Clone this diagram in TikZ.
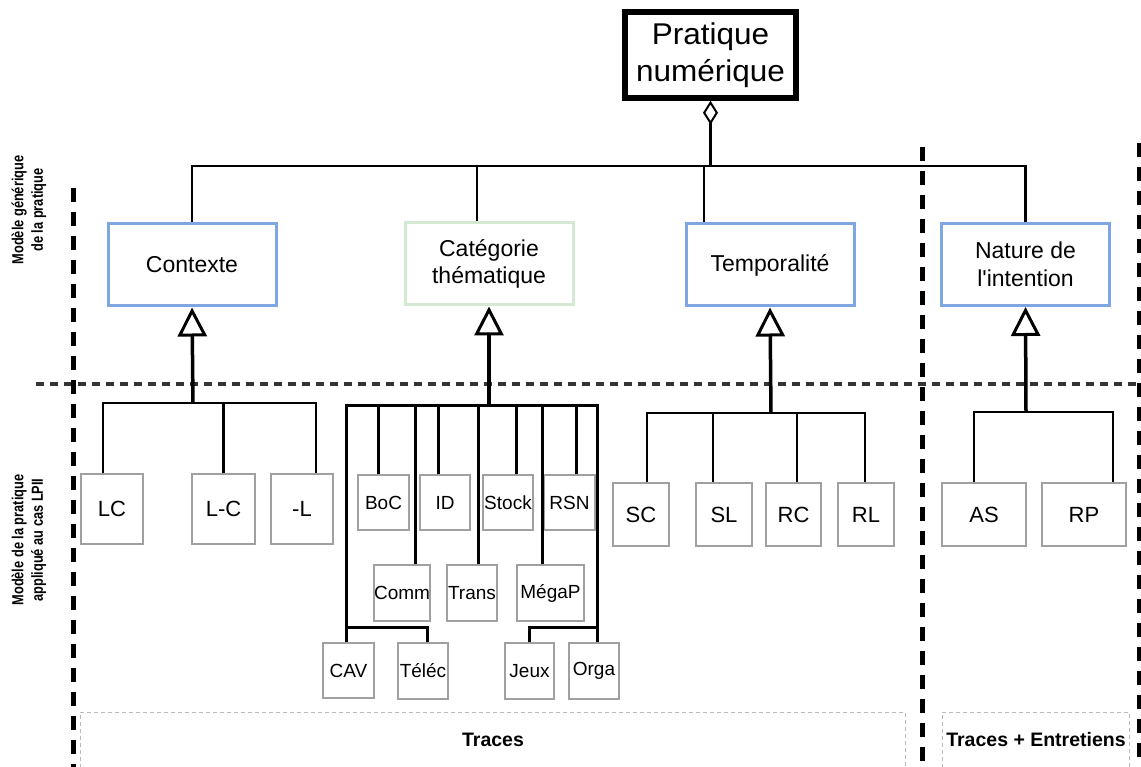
\documentclass[tikz,border=0pt]{standalone}
\usepackage{fontspec}
\setmainfont{Liberation Sans}
\newfontfamily\widefont[FakeStretch=1.05]{Liberation Sans}
\newfontfamily\narrowfont[FakeStretch=0.8]{Liberation Sans}
\usetikzlibrary{arrows.meta}
\definecolor{bluebd}{HTML}{7EA6E0}
\definecolor{greenbd}{HTML}{D5E8D4}
\definecolor{graybd}{HTML}{A0A0A0}
\begin{document}
\begin{tikzpicture}[x=1pt,y=-1pt,
  mainbox/.style={draw, line width=5.5pt, align=center, font=\widefont\fontsize{30}{37}\selectfont, minimum width=171pt, minimum height=86pt, inner sep=0pt},
  cls/.style={draw=bluebd, line width=3pt, align=center, font=\fontsize{23}{27.5}\selectfont, minimum width=168pt, minimum height=82pt, inner sep=0pt},
  leaf/.style={draw=graybd, line width=1.2pt, fill=white, font=\fontsize{22}{26}\selectfont, inner sep=0pt},
  cleaf/.style={leaf, font=\fontsize{19}{22}\selectfont},
  bus/.style={line width=2.5pt},
  tbus/.style={line width=3pt},
  gen/.style={line width=3.5pt, -{Triangle[open,length=29pt,width=29pt,line width=3pt]}},
  sidelbl/.style={rotate=90, align=center, font=\narrowfont\bfseries\fontsize{16}{19.5}\selectfont},
  zonelbl/.style={font=\bfseries\fontsize{19.5}{23}\selectfont},
  bigdash/.style={line width=5pt, dash pattern=on 14pt off 10pt},
  zone/.style={draw=gray!55, line width=0.9pt, dash pattern=on 4pt off 3pt}
]
\useasboundingbox (0,0) rectangle (1141,767);

% separators
\draw[line width=3pt, black!80, dash pattern=on 8pt off 6pt] (36,384) -- (1141,384);
\draw[bigdash] (73,188) -- (73,767);
\draw[bigdash] (922,147) -- (922,767);
\draw[bigdash] (1139,143) -- (1139,767);
\draw[zone] (80,775) -- (80,712) -- (905,712) -- (905,775);
\draw[zone] (942,775) -- (942,712) -- (1129,712) -- (1129,775);

% side labels
\node[sidelbl] (lblA) at (29,210) {Modèle générique\\de la pratique};
\node[sidelbl] (lblB) at (29,540) {Modèle de la pratique\\appliqué au cas LPII};
\node[zonelbl] (trc) at (493,740) {Traces};
\node[zonelbl] (tre) at (1036,740) {Traces + Entretiens};

% main nodes
\node[mainbox] (top) at (710.5,55) {Pratique\\numérique};
\node[cls] (ctx) at (192,265) {Contexte};
\node[cls, draw=greenbd] (cat) at (489,264) {Catégorie\\thématique};
\node[cls] (tmp) at (770,265) {Temporalité};
\node[cls] (nat) at (1025.5,264.5) {Nature de\\l\textquotesingle intention};

\coordinate (busT) at (710,166);
\draw[line width=2.2pt, {Diamond[open,length=24pt,width=15pt,line width=2pt]}-] (top.south) -- (top.south |- busT);
\draw[line width=2.2pt] (ctx.north) |- (nat.north |- busT) -- (nat.north);
\draw[line width=2.2pt] ([xshift=-12pt]cat.north) -- ([xshift=-12pt]cat.north |- busT);
\draw[line width=2.2pt] ([xshift=-66pt]tmp.north) -- ([xshift=-66pt]tmp.north |- busT);

% Contexte children
\node[leaf, minimum width=62pt, minimum height=70pt] (LC) at (112,509) {LC};
\node[leaf, minimum width=63pt, minimum height=70pt] (LmC) at (223.5,509) {L-C};
\node[leaf, minimum width=62pt, minimum height=70pt] (mL) at (302,509) {-L};
\coordinate (ctxB) at (193,403);
\draw[bus] ([xshift=-9pt]LC.north) |- ([xshift=14pt]mL.north |- ctxB) -- ([xshift=14pt]mL.north);
\draw[bus] (LmC.north) -- (LmC.north |- ctxB);
\draw[gen] (ctxB) -- (ctx.south);

% Temporalite children
\node[leaf, minimum width=56pt, minimum height=63pt] (SC) at (641,514.5) {SC};
\node[leaf, minimum width=56pt, minimum height=63pt] (SL) at (724,514.5) {SL};
\node[leaf, minimum width=55pt, minimum height=63pt] (RC) at (793.5,514.5) {RC};
\node[leaf, minimum width=56pt, minimum height=63pt] (RL) at (866,514.5) {RL};
\coordinate (tmpB) at (771,413);
\draw[bus] ([xshift=6pt]SC.north) |- ([xshift=-1pt]RL.north |- tmpB) -- ([xshift=-1pt]RL.north);
\draw[bus] ([xshift=-11pt]SL.north) -- ([xshift=-11pt]SL.north |- tmpB);
\draw[bus] ([xshift=3.5pt]RC.north) -- ([xshift=3.5pt]RC.north |- tmpB);
\draw[gen] (tmpB) -- (tmp.south);

% Nature children
\node[leaf, minimum width=84pt, minimum height=63pt] (AS) at (984,514.5) {AS};
\node[leaf, minimum width=84pt, minimum height=63pt] (RP) at (1084,514.5) {RP};
\coordinate (natB) at (1026,412);
\draw[bus] ([xshift=-10pt]AS.north) |- ([xshift=29pt]RP.north |- natB) -- ([xshift=29pt]RP.north);
\draw[gen] (natB) -- (nat.south);

% Categorie children
\node[cleaf, minimum width=51pt, minimum height=55pt] (BoC) at (383.5,502.5) {BoC};
\node[cleaf, minimum width=50pt, minimum height=55pt] (ID) at (445,502.5) {ID};
\node[cleaf, minimum width=50pt, minimum height=55pt] (Stock) at (508,502.5) {Stock};
\node[cleaf, minimum width=51pt, minimum height=55pt] (RSN) at (569.5,502.5) {RSN};
\node[cleaf, minimum width=56pt, minimum height=56pt] (Comm) at (402,593) {Comm};
\node[cleaf, minimum width=50pt, minimum height=56pt] (Trans) at (472,593) {Trans};
\node[cleaf, minimum width=67pt, minimum height=56pt] (Mega) at (550.5,593) {MégaP};
\node[cleaf, minimum width=51pt, minimum height=55pt] (CAV) at (348.5,670.5) {CAV};
\node[cleaf, minimum width=50pt, minimum height=56pt] (Tel) at (423,671) {Téléc};
\node[cleaf, minimum width=49pt, minimum height=56pt] (Jeux) at (529.5,671) {Jeux};
\node[cleaf, minimum width=50pt, minimum height=56pt] (Orga) at (594,671) {Orga};
\coordinate (catB) at (489,405);
\draw[tbus] ([xshift=-2.5pt]CAV.north) |- ([xshift=3pt]Orga.north |- catB) -- ([xshift=3pt]Orga.north);
\draw[tbus] ([xshift=4pt]Tel.north) |- ([xshift=-2.5pt,yshift=15pt]CAV.north);
\draw[tbus] (Jeux.north) |- ([xshift=3pt,yshift=15pt]Orga.north);
\draw[tbus] ([xshift=-5.5pt]BoC.north) -- ([xshift=-5.5pt]BoC.north |- catB);
\draw[tbus] ([xshift=-7pt]ID.north) -- ([xshift=-7pt]ID.north |- catB);
\draw[tbus] ([xshift=8pt]Stock.north) -- ([xshift=8pt]Stock.north |- catB);
\draw[tbus] ([xshift=6.5pt]RSN.north) -- ([xshift=6.5pt]RSN.north |- catB);
\draw[tbus] ([xshift=13pt]Comm.north) -- ([xshift=13pt]Comm.north |- catB);
\draw[tbus] ([xshift=6pt]Trans.north) -- ([xshift=6pt]Trans.north |- catB);
\draw[tbus] ([xshift=-8.5pt]Mega.north) -- ([xshift=-8.5pt]Mega.north |- catB);
\draw[gen] (catB) -- (cat.south);
\end{tikzpicture}
\end{document}
